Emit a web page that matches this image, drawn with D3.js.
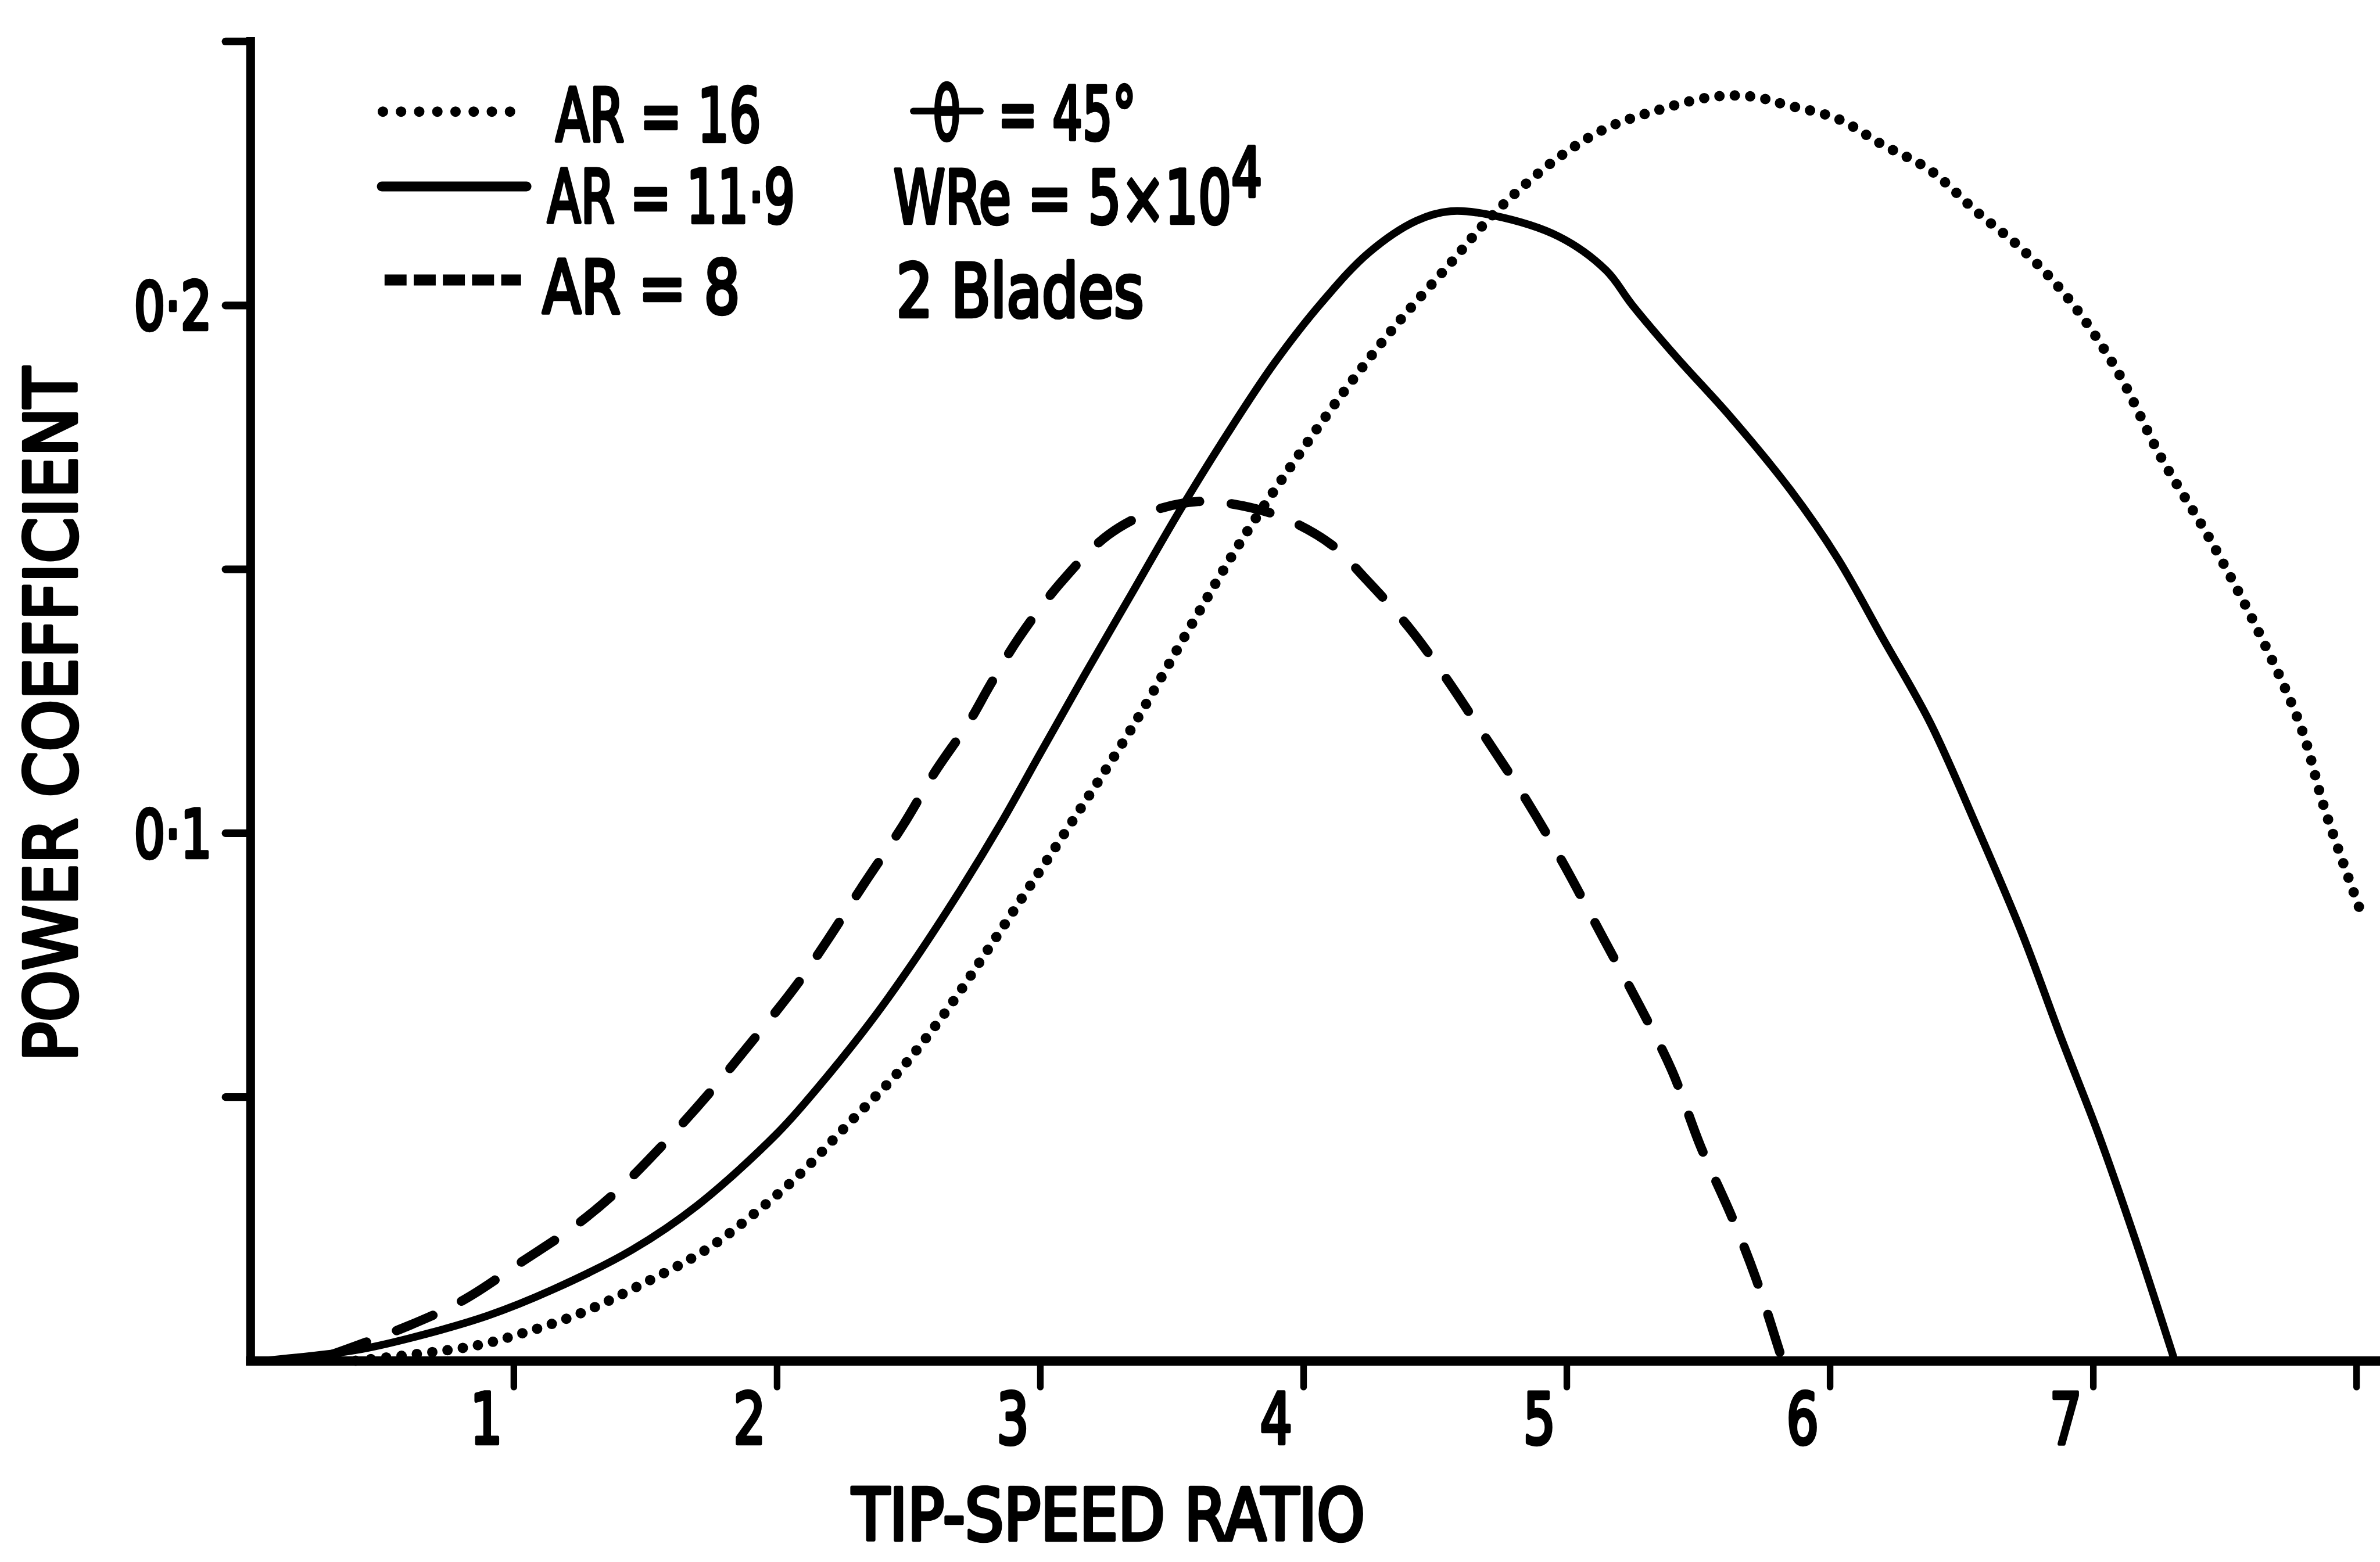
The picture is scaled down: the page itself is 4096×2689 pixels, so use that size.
<!DOCTYPE html>
<html>
<head>
<meta charset="utf-8">
<script src="https://cdn.jsdelivr.net/npm/d3@7"></script>
<style>
  html, body { margin: 0; padding: 0; background: #fff; overflow: hidden; }
  svg { display: block; }
</style>
</head>
<body>
<svg id="chart"></svg>
<script>
// ---- data: power coefficient vs tip-speed ratio, 2-bladed rotor ----
const tsrAR16 = [0.40, 0.84, 1.02, 1.25, 1.48, 1.73, 1.90, 2.08, 2.27, 2.46, 2.64, 2.81, 2.92, 3.12, 3.35, 3.57, 3.76, 3.96, 4.16, 4.36, 4.56, 4.68, 4.79, 4.97, 5.15, 5.35, 5.56, 5.71, 5.83, 6.03, 6.20, 6.38, 6.56, 6.73, 6.91, 7.09, 7.26, 7.44, 7.62, 7.79, 7.88, 8.01];
const cpAR16  = [0.000, 0.0027, 0.005, 0.0089, 0.0143, 0.021, 0.0273, 0.035, 0.0448, 0.0546, 0.0660, 0.0785, 0.0868, 0.102, 0.120, 0.139, 0.155, 0.170, 0.184, 0.1967, 0.208, 0.2150, 0.2205, 0.228, 0.2335, 0.237, 0.2395, 0.2395, 0.238, 0.2353, 0.2304, 0.2256, 0.2176, 0.2106, 0.201, 0.1877, 0.171, 0.156, 0.139, 0.120, 0.1045, 0.086];

const tsrAR119 = [0.05, 0.40, 0.60, 0.90, 1.15, 1.45, 1.70, 2.00, 2.15, 2.35, 2.50, 2.70, 2.85, 3.00, 3.17, 3.35, 3.53, 3.71, 3.89, 4.07, 4.25, 4.43, 4.56, 4.72, 4.97, 5.15, 5.25, 5.42, 5.62, 5.85, 6.03, 6.20, 6.38, 6.56, 6.73, 6.88, 7.02, 7.16, 7.31];
const cpAR119  = [0.000, 0.0020, 0.0042, 0.0085, 0.0135, 0.0210, 0.0295, 0.0430, 0.0514, 0.0638, 0.0742, 0.0894, 0.1017, 0.1150, 0.1300, 0.1455, 0.1610, 0.1755, 0.1890, 0.2005, 0.2100, 0.2160, 0.2178, 0.2170, 0.2130, 0.2066, 0.2000, 0.1900, 0.1790, 0.1650, 0.1520, 0.1370, 0.1210, 0.1010, 0.0810, 0.0610, 0.0430, 0.0230, 0.000];

const tsrAR8 = [0.30, 0.60, 0.81, 1.03, 1.23, 1.39, 1.55, 1.74, 1.93, 2.08, 2.19, 2.32, 2.48, 2.60, 2.73, 2.81, 2.92, 3.08, 3.26, 3.44, 3.60, 3.71, 3.91, 4.11, 4.23, 4.40, 4.54, 4.68, 4.85, 4.99, 5.14, 5.28, 5.40, 5.51, 5.63, 5.72, 5.82];
const cpAR8  = [0.001, 0.0066, 0.0115, 0.0187, 0.0254, 0.0320, 0.0400, 0.0505, 0.0620, 0.0715, 0.0795, 0.0895, 0.1015, 0.1115, 0.1210, 0.1280, 0.1370, 0.1475, 0.1565, 0.1612, 0.1628, 0.1625, 0.1600, 0.1545, 0.1485, 0.1390, 0.1295, 0.1190, 0.1060, 0.0940, 0.0800, 0.0670, 0.0550, 0.0405, 0.0270, 0.0155, 0.000];

const seriesLabels = ["AR = 16", "AR = 11·9", "AR = 8"];
const pitchSymbol = "θ";
const pitchValue = "= 45°";
const conditionLabels = ["WRe = 5×10", "2 Blades"];
const conditionExponent = "4";

const xTicks = [1, 2, 3, 4, 5, 6, 7, 8];
const xTickLabels = ["1", "2", "3", "4", "5", "6", "7", ""];
const yTicks = [0.05, 0.10, 0.15, 0.20, 0.25];
const yTickLabels = ["", "0·1", "", "0·2", ""];

const xTitle = "TIP-SPEED RATIO";
const yTitle = "POWER COEFFICIENT";

// ---- drawing ----
const W = 4326, H = 2840;
const FONT = "'DejaVu Sans', 'Liberation Sans', sans-serif";
const INK = "#000";
const TEXT_STROKE = 7;

const svg = d3.select("#chart")
  .attr("width", 4096)
  .attr("height", 2689)
  .attr("viewBox", `0 0 ${W} ${H}`);

svg.append("rect").attr("width", W).attr("height", H).attr("fill", "#fff");

const x = d3.scaleLinear().domain([0, 8.09]).range([455, 4326]);
const y = d3.scaleLinear().domain([0, 0.25]).range([2474, 75]);

// squeeze a text element horizontally so its ink spans x0..x1 on the given baseline
function fitText(sel, x0, x1, baseline) {
  const b = sel.node().getBBox();
  const s = (x1 - x0) / b.width;
  sel.attr("transform", `translate(${x0 - b.x * s},${baseline}) scale(${s},1)`);
}

function styleText(sel, size) {
  return sel
    .attr("font-family", FONT)
    .attr("font-weight", "normal")
    .attr("font-size", size)
    .attr("fill", INK)
    .attr("stroke", INK)
    .attr("stroke-width", TEXT_STROKE)
    .attr("stroke-linejoin", "round");
}

function label(parent, str, size) {
  return styleText(parent.append("text").attr("x", 0).attr("y", 0), size).text(str);
}

// curves
const series = [
  { name: seriesLabels[0], tsr: tsrAR16, cp: cpAR16, dash: "0 28", width: 19 },
  { name: seriesLabels[1], tsr: tsrAR119, cp: cpAR119, dash: null, width: 14 },
  { name: seriesLabels[2], tsr: tsrAR8, cp: cpAR8, dash: "72 58", width: 17 }
];

const line = d3.line()
  .x(d => x(d[0]))
  .y(d => y(d[1]))
  .curve(d3.curveCatmullRom.alpha(0.5));

svg.append("g").attr("class", "curves")
  .selectAll("path")
  .data(series)
  .join("path")
  .attr("d", s => line(s.tsr.map((t, i) => [t, s.cp[i]])))
  .attr("fill", "none")
  .attr("stroke", INK)
  .attr("stroke-width", s => s.width)
  .attr("stroke-linecap", "round")
  .attr("stroke-linejoin", "round")
  .attr("stroke-dasharray", s => s.dash);

// x axis
const xAxis = d3.axisBottom(x)
  .tickValues(xTicks)
  .tickSize(48)
  .tickSizeOuter(0)
  .tickFormat((d, i) => xTickLabels[i]);

const gx = svg.append("g")
  .attr("transform", `translate(0,${y(0)})`)
  .call(xAxis);

gx.select(".domain")
  .attr("stroke", INK)
  .attr("stroke-width", 17)
  .attr("stroke-linecap", "square");
gx.selectAll(".tick line")
  .attr("stroke", INK)
  .attr("stroke-width", 12)
  .attr("stroke-linecap", "round");
styleText(gx.selectAll(".tick text"), 128)
  .attr("y", 0).attr("dy", null)
  .attr("text-anchor", "middle")
  .attr("transform", "translate(-50,151) scale(0.72,1)");

// y axis
const yAxis = d3.axisLeft(y)
  .tickValues(yTicks)
  .tickSize(45)
  .tickSizeOuter(0)
  .tickFormat((d, i) => yTickLabels[i]);

const gy = svg.append("g")
  .attr("transform", `translate(${x(0)},0)`)
  .call(yAxis);

gy.select(".domain")
  .attr("stroke", INK)
  .attr("stroke-width", 16)
  .attr("stroke-linecap", "square");
gy.selectAll(".tick line")
  .attr("stroke", INK)
  .attr("stroke-width", 14)
  .attr("stroke-linecap", "round");
styleText(gy.selectAll(".tick text"), 120)
  .attr("x", 0).attr("dy", null)
  .attr("text-anchor", "end")
  .attr("transform", "translate(-70,44) scale(0.74,1)");

// axis titles
const xt = label(svg, xTitle, 130);
fitText(xt, 1548, 2481, 2800);

const yt = label(svg, yTitle, 130);
{
  const b = yt.node().getBBox();
  const s = 1263 / b.width;
  yt.attr("transform", `translate(138,1930) rotate(-90) scale(${s},1) translate(${-b.x},0)`);
}

// legend
const legend = svg.append("g").attr("class", "legend");
const legendRows = [
  { y: 203, x0: 696, x1: 957, dash: "0 33", width: 19, cap: "round", tx0: 1010, tx1: 1383, base: 257 },
  { y: 339, x0: 694, x1: 957, dash: null, width: 18, cap: "round", tx0: 995, tx1: 1445, base: 404 },
  { y: 509, x0: 699, x1: 947, dash: "40 13", width: 20, cap: "butt", tx0: 986, tx1: 1345, base: 569 }
];
legendRows.forEach((r, i) => {
  legend.append("line")
    .attr("x1", r.x0).attr("x2", r.x1)
    .attr("y1", r.y).attr("y2", r.y)
    .attr("stroke", INK)
    .attr("stroke-width", r.width)
    .attr("stroke-linecap", r.cap)
    .attr("stroke-dasharray", r.dash);
  const t = label(legend, series[i].name, 134);
  fitText(t, r.tx0, r.tx1, r.base);
});

// test conditions: blade pitch (barred theta), Reynolds number, blade count
const thetaText = label(legend, pitchSymbol, 134);
fitText(thetaText, 1696, 1746, 254);
legend.append("line")
  .attr("x1", 1660).attr("x2", 1782)
  .attr("y1", 202).attr("y2", 202)
  .attr("stroke", INK).attr("stroke-width", 12)
  .attr("stroke-linecap", "round");
const pitchText = label(legend, pitchValue, 134);
fitText(pitchText, 1814, 2065, 254);

const c1 = styleText(legend.append("text").attr("x", 0).attr("y", 0), 134);
c1.append("tspan").text(conditionLabels[0]);
c1.append("tspan").attr("dy", -49).attr("font-size", 124).text(conditionExponent);
fitText(c1, 1624, 2294, 406);

const c2 = label(legend, conditionLabels[1], 134);
fitText(c2, 1629, 2079, 576);
</script>
</body>
</html>
